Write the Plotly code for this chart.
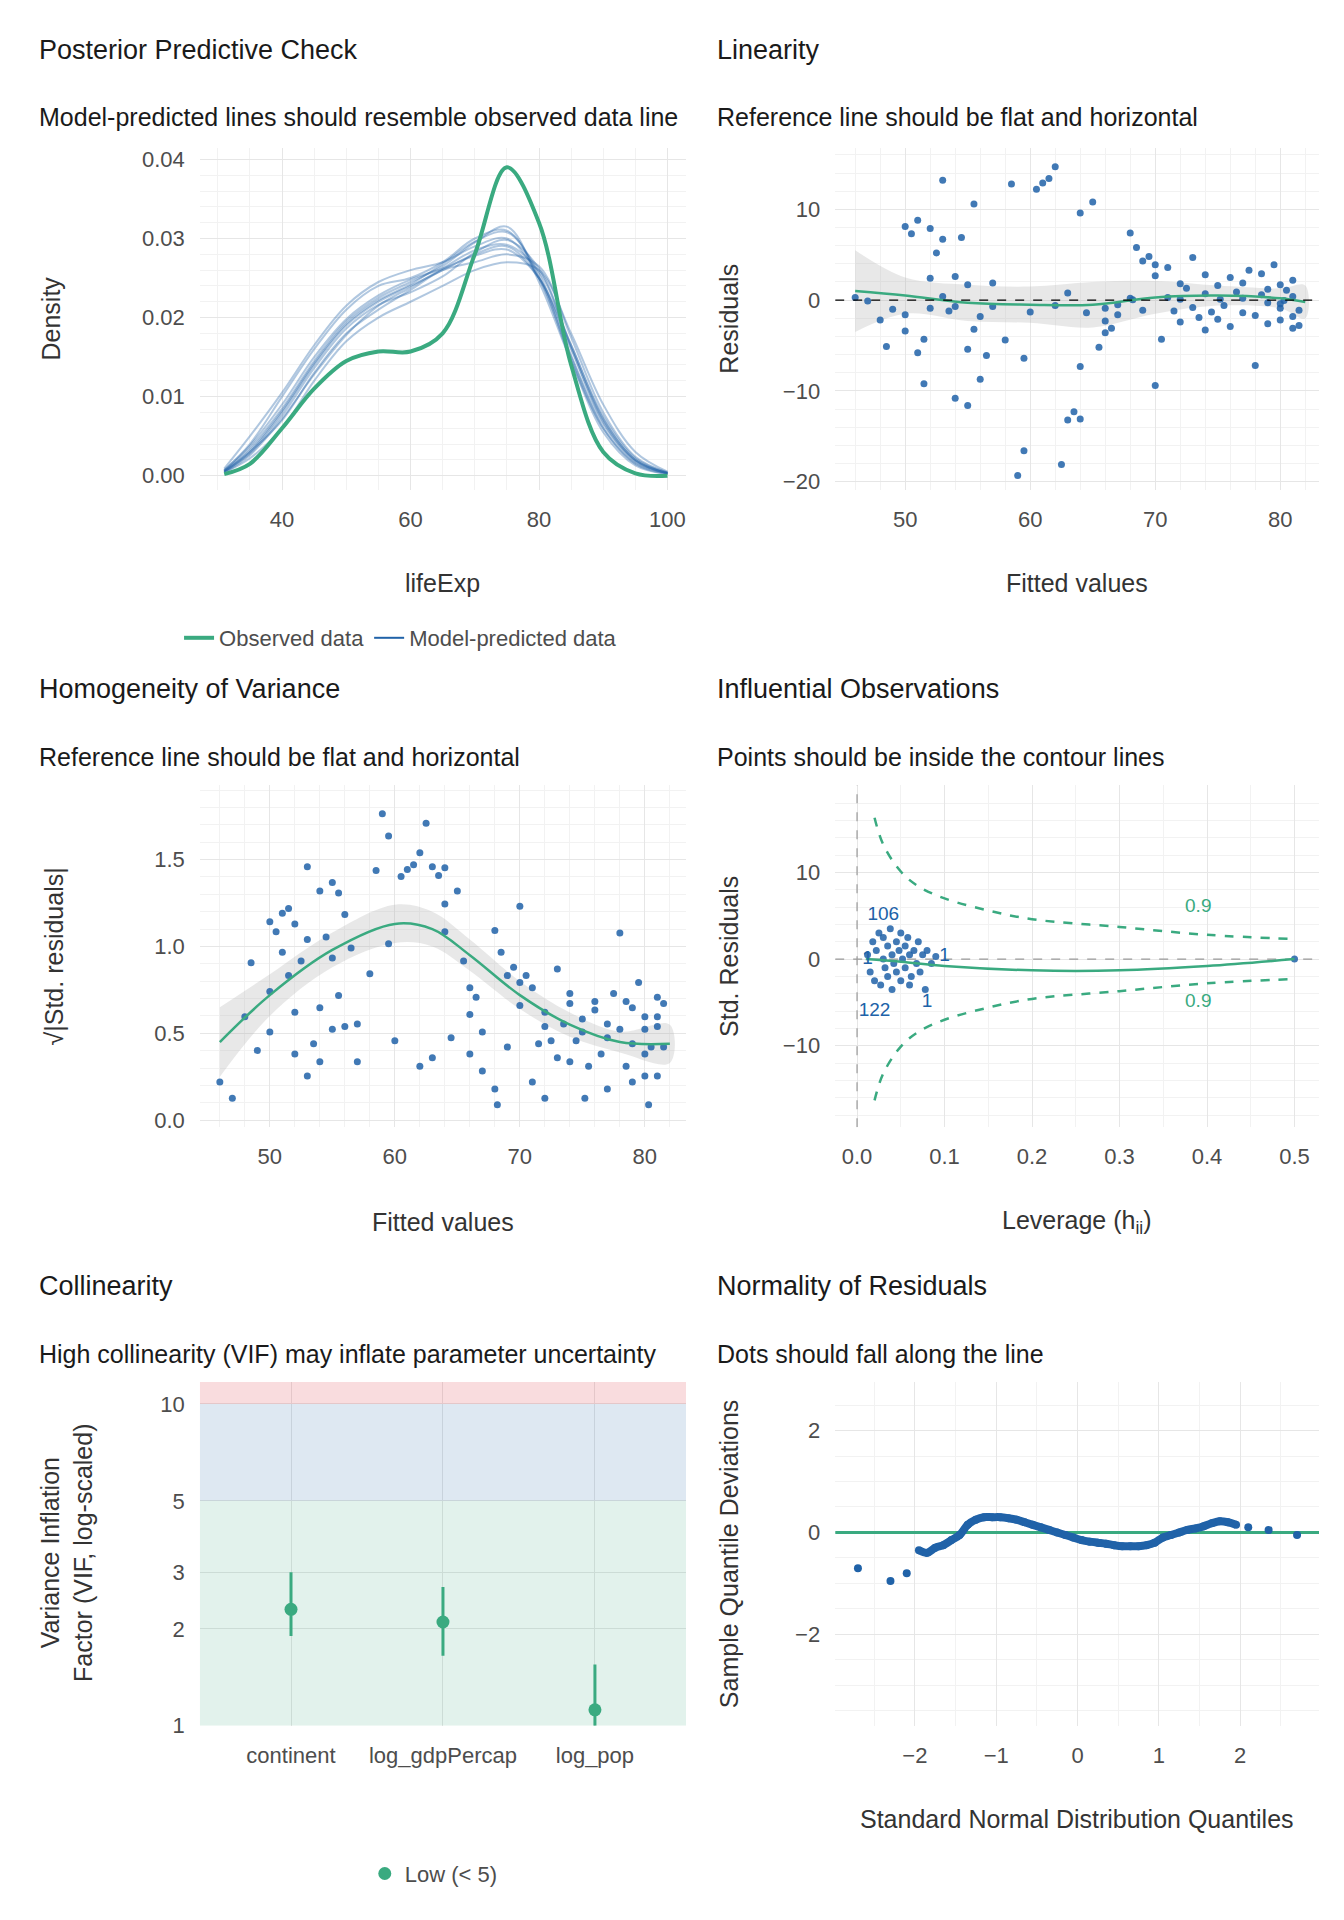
import plotly.graph_objects as go

GREEN = "#3aaa80"
BLUE = "#2062a8"
GRID = "#e6e6e6"
TXT = "#1a1a1a"
TICK = "#4d4d4d"

# ---- Posterior predictive check ----
ppc_x = [31, 35, 40, 45, 50, 55, 60, 65, 70, 75, 80, 85, 90, 95, 100]
obs_density = [0.0002, 0.0015, 0.0060, 0.0110, 0.0145, 0.0157, 0.0157, 0.0180, 0.0280, 0.0390, 0.0320, 0.0140, 0.0030, 0.0003, 0.0]
pred_density = [
    [0.0005, 0.003, 0.008, 0.014, 0.019, 0.022, 0.024, 0.026, 0.028, 0.029, 0.025, 0.016, 0.007, 0.002, 0.0003],
    [0.0007, 0.004, 0.010, 0.016, 0.021, 0.024, 0.025, 0.027, 0.030, 0.031, 0.025, 0.015, 0.006, 0.0015, 0.0002],
    [0.0004, 0.0022, 0.006, 0.012, 0.017, 0.020, 0.022, 0.024, 0.026, 0.027, 0.026, 0.018, 0.009, 0.003, 0.0005],
    [0.0006, 0.0035, 0.0085, 0.0145, 0.0195, 0.0225, 0.0245, 0.0265, 0.0295, 0.0315, 0.0245, 0.0145, 0.0060, 0.0016, 0.0003],
    [0.0005, 0.003, 0.0070, 0.0130, 0.0180, 0.0210, 0.0235, 0.0260, 0.0270, 0.0280, 0.0265, 0.0175, 0.0080, 0.0024, 0.0004],
    [0.0009, 0.0050, 0.0105, 0.0165, 0.0215, 0.0245, 0.0260, 0.0270, 0.0290, 0.0300, 0.0250, 0.0145, 0.0055, 0.0013, 0.0002],
    [0.0004, 0.0026, 0.0072, 0.0128, 0.0178, 0.0215, 0.0238, 0.0262, 0.0285, 0.0292, 0.0258, 0.0165, 0.0075, 0.0022, 0.0004],
    [0.0006, 0.0032, 0.0082, 0.0142, 0.0192, 0.0222, 0.0242, 0.0268, 0.0296, 0.0308, 0.0255, 0.0152, 0.0065, 0.0018, 0.0003],
    [0.0007, 0.0038, 0.0090, 0.0150, 0.0198, 0.0228, 0.0248, 0.0262, 0.0278, 0.0286, 0.0250, 0.0165, 0.0072, 0.0020, 0.0003],
    [0.0005, 0.0028, 0.0076, 0.0136, 0.0186, 0.0216, 0.0232, 0.0252, 0.0282, 0.0298, 0.0262, 0.0162, 0.0068, 0.0019, 0.0003],
]

# ---- Linearity ----
fit_resid = [(46,0.3),(48,-2.2),(48.5,-5.1),(50,-3.4),(50,8.1),(50.5,7.3),(51,-5.8),(51,8.8),(51.5,-9.2),(51.5,-4.3),(52,7.9),(52,2.4),(52.5,5.2),(53,13.2),(53,0.4),(53,6.7),(53.5,-1.2),(54,-0.7),(54,-10.8),(54,2.6),(54.5,6.9),(55,-11.6),(55,-5.4),(55,1.7),(55.5,10.6),(55.5,-3.2),(56,-1.8),(56,-8.7),(56.5,-6.1),(57,1.9),(58,-4.4),(58.5,12.8),(59,-19.3),(59.5,-16.6),(59.5,-6.4),(60,-1.3),(60.5,12.2),(61,12.9),(61.5,13.4),(62,14.7),(62,-0.6),(62.5,-18.1),(63,-13.2),(63,0.8),(63.5,-12.3),(64,-7.3),(64,-13.1),(64.5,-1.4),(64,9.6),(65,10.8),(65.5,-5.2),(66,-2.3),(66,-0.9),(66.5,-3.1),(67,-1.6),(67,-0.5),(68,0.2),(68,7.4),(68.5,5.8),(69,-1.1),(69,4.3),(69.5,4.8),(70,-9.4),(70,2.7),(70,3.9),(70.5,-4.3),(71,3.6),(71.5,-1.2),(72,1.8),(72,-2.4),(72,0.1),(72.5,1.3),(73,4.7),(73,-0.8),(73.5,-1.9),(74,0.7),(74,2.8),(74.5,-1.3),(75,1.6),(75,-2.1),(75.5,-0.6),(76,-2.9),(76,2.5),(76.5,0.9),(77,0.2),(77,-1.4),(77.5,3.3),(78,-1.7),(78,-7.2),(78.5,0.6),(78.5,2.9),(79,-2.6),(79,-0.3),(79.5,3.9),(80,-0.9),(80,1.7),(80,-2.2),(80.5,1.1),(81,-3.1),(81,0.4),(81,2.2),(81.5,-1.1),(81.5,-2.8),(50,-1.6),(52,-0.9),(57,-0.7),(66,-3.6),(71,0.3),(74,-3.3),(77,1.9),(79,1.2),(80,-0.4),(81,-1.8),(47,-0.1),(49,-1.0),(68.2,0.05),(75.2,0.1),(80.3,-0.05)]
fitted = [p[0] for p in fit_resid]
resid = [p[1] for p in fit_resid]
lin_x = [46, 50, 55, 60, 65, 70, 75, 80, 82]
lin_y = [1.0, 0.5, -0.3, -0.5, -0.5, 0.3, 0.5, 0.2, -0.2]
lin_lo = [-3.5, -1.5, -2.3, -2.5, -3.0, -1.5, -0.6, -0.9, -2.0]
lin_hi = [5.5, 2.5, 1.7, 1.5, 2.0, 2.1, 1.6, 1.3, 1.6]

# ---- Homogeneity ----
sigma = 6.2
sqrt_std = [(abs(r) / sigma) ** 0.5 for r in resid]
hom_x = [46, 50, 55, 60, 63, 66, 70, 74, 78, 82]
hom_y = [0.45, 0.72, 0.98, 1.13, 1.10, 0.95, 0.72, 0.55, 0.45, 0.44]
hom_lo = [0.25, 0.60, 0.88, 1.02, 1.00, 0.86, 0.64, 0.48, 0.39, 0.33]
hom_hi = [0.65, 0.84, 1.08, 1.24, 1.20, 1.04, 0.80, 0.62, 0.51, 0.55]

# ---- Influential observations ----
lev = [0.012,0.015,0.018,0.02,0.022,0.025,0.027,0.03,0.03,0.032,0.035,0.035,0.038,0.04,0.04,0.042,0.045,0.045,0.048,0.05,0.05,0.052,0.055,0.055,0.058,0.06,0.06,0.062,0.065,0.068,0.07,0.072,0.075,0.078,0.08,0.085,0.09,0.5]
std_res = [0.5,-1.5,2.0,-2.5,1.0,3.0,-3.0,0.0,2.5,-1.0,1.5,-2.0,3.5,0.5,-3.5,-0.5,2.0,-1.5,1.0,3.0,-2.5,0.0,1.5,-1.0,2.5,-3.0,0.5,-2.0,1.0,-0.5,2.0,-1.5,0.5,-3.5,1.0,-0.5,0.3,0.0]
cook_h = [0.02, 0.03, 0.05, 0.07, 0.1, 0.15, 0.2, 0.3, 0.4, 0.5]
cook_y = [16.3, 13.2, 10.1, 8.4, 7.0, 5.6, 4.6, 3.7, 2.8, 2.3]
inf_sx = [0.01, 0.05, 0.1, 0.2, 0.3, 0.4, 0.5]
inf_sy = [0.0, -0.3, -0.8, -1.3, -1.3, -0.8, 0.0]

# ---- Collinearity ----
vif_terms = ["continent", "log_gdpPercap", "log_pop"]
vif = [2.3, 2.1, 1.12]
vif_lo = [1.9, 1.65, 1.0]
vif_hi = [3.0, 2.7, 1.55]

# ---- Normality ----
qq_x = [-2.7,-2.3,-2.1,-1.95,-1.85,-1.75,-1.65,-1.55,-1.45,-1.35,-1.25,-1.15,-1.05,-0.95,-0.85,-0.75,-0.65,-0.55,-0.45,-0.35,-0.25,-0.15,-0.05,0.05,0.15,0.25,0.35,0.45,0.55,0.65,0.75,0.85,0.95,1.05,1.15,1.25,1.35,1.45,1.55,1.65,1.75,1.85,1.95,2.1,2.35,2.7]
qq_y = [-0.7,-0.95,-0.8,-0.35,-0.4,-0.3,-0.25,-0.15,-0.05,0.15,0.25,0.3,0.3,0.3,0.28,0.25,0.2,0.15,0.1,0.05,0.0,-0.05,-0.1,-0.15,-0.18,-0.2,-0.22,-0.25,-0.27,-0.27,-0.27,-0.25,-0.2,-0.1,-0.05,0.0,0.05,0.08,0.12,0.18,0.22,0.2,0.15,0.1,0.05,-0.05]

fig = go.Figure()

# panel 1
for d in pred_density:
    fig.add_trace(go.Scatter(x=ppc_x, y=d, mode="lines", line=dict(color=BLUE, width=2, shape="spline"),
                             opacity=0.35, showlegend=False, xaxis="x", yaxis="y"))
fig.add_trace(go.Scatter(x=ppc_x, y=obs_density, mode="lines", line=dict(color=GREEN, width=4, shape="spline"),
                         name="Observed data", legendrank=1, xaxis="x", yaxis="y"))
fig.add_trace(go.Scatter(x=[None], y=[None], mode="lines", line=dict(color=BLUE, width=2),
                         name="Model-predicted data", legendrank=2, xaxis="x", yaxis="y"))

# panel 2
fig.add_trace(go.Scatter(x=lin_x + lin_x[::-1], y=lin_hi + lin_lo[::-1], fill="toself", fillcolor="rgba(180,180,180,0.3)",
                         mode="lines", line=dict(width=0, shape="spline"), showlegend=False, hoverinfo="skip", xaxis="x2", yaxis="y2"))
fig.add_trace(go.Scatter(x=fitted, y=resid, mode="markers", marker=dict(color=BLUE, size=7, opacity=0.85),
                         showlegend=False, xaxis="x2", yaxis="y2"))
fig.add_trace(go.Scatter(x=lin_x, y=lin_y, mode="lines", line=dict(color=GREEN, width=2.5, shape="spline"),
                         showlegend=False, xaxis="x2", yaxis="y2"))
fig.add_trace(go.Scatter(x=[44.4, 83.1], y=[0, 0], mode="lines", line=dict(color="black", width=1.3, dash="dash"),
                         showlegend=False, xaxis="x2", yaxis="y2"))

# panel 3
fig.add_trace(go.Scatter(x=hom_x + hom_x[::-1], y=hom_hi + hom_lo[::-1], fill="toself", fillcolor="rgba(180,180,180,0.3)",
                         mode="lines", line=dict(width=0, shape="spline"), showlegend=False, hoverinfo="skip", xaxis="x3", yaxis="y3"))
fig.add_trace(go.Scatter(x=fitted, y=sqrt_std, mode="markers", marker=dict(color=BLUE, size=7, opacity=0.85),
                         showlegend=False, xaxis="x3", yaxis="y3"))
fig.add_trace(go.Scatter(x=hom_x, y=hom_y, mode="lines", line=dict(color=GREEN, width=2.5, shape="spline"),
                         showlegend=False, xaxis="x3", yaxis="y3"))

# panel 4
fig.add_trace(go.Scatter(x=[0, 0], y=[-19.4, 20.1], mode="lines", line=dict(color="#999999", width=1.2, dash="dash"),
                         showlegend=False, xaxis="x4", yaxis="y4"))
fig.add_trace(go.Scatter(x=[-0.025, 0.528], y=[0, 0], mode="lines", line=dict(color="#999999", width=1.2, dash="dash"),
                         showlegend=False, xaxis="x4", yaxis="y4"))
fig.add_trace(go.Scatter(x=cook_h, y=cook_y, mode="lines", line=dict(color=GREEN, width=2.5, dash="dash", shape="spline"),
                         showlegend=False, xaxis="x4", yaxis="y4"))
fig.add_trace(go.Scatter(x=cook_h, y=[-v for v in cook_y], mode="lines", line=dict(color=GREEN, width=2.5, dash="dash", shape="spline"),
                         showlegend=False, xaxis="x4", yaxis="y4"))
fig.add_trace(go.Scatter(x=lev, y=std_res, mode="markers", marker=dict(color=BLUE, size=7, opacity=0.85),
                         showlegend=False, xaxis="x4", yaxis="y4"))
fig.add_trace(go.Scatter(x=inf_sx, y=inf_sy, mode="lines", line=dict(color=GREEN, width=2.5, shape="spline"),
                         showlegend=False, xaxis="x4", yaxis="y4"))
fig.add_trace(go.Scatter(x=[0.03, 0.02, 0.08, 0.012, 0.1, 0.39, 0.39], y=[5, -6, -5, 0, 0.3, 6, -5],
                         mode="text", text=["106", "122", "1", "1", "1", "0.9", "0.9"],
                         textfont=dict(color=[BLUE]*5 + [GREEN]*2, size=19), showlegend=False, xaxis="x4", yaxis="y4"))

# panel 5
for lo, hi, col in [(1, 5, "rgba(58,170,128,0.15)"), (5, 10, "rgba(31,102,166,0.15)"), (10, 11.7, "rgba(220,60,70,0.18)")]:
    fig.add_trace(go.Scatter(x=[-0.6, 2.6, 2.6, -0.6], y=[lo, lo, hi, hi], fill="toself", fillcolor=col,
                             line=dict(width=0), mode="lines", showlegend=False, hoverinfo="skip", xaxis="x5", yaxis="y5"))
fig.add_trace(go.Scatter(x=[0, 1, 2], y=vif, mode="markers", marker=dict(color=GREEN, size=13),
                         error_y=dict(type="data", symmetric=False,
                                      array=[h - v for h, v in zip(vif_hi, vif)],
                                      arrayminus=[v - l for v, l in zip(vif, vif_lo)],
                                      color=GREEN, thickness=3, width=0),
                         name="Low (< 5)", legend="legend2", xaxis="x5", yaxis="y5"))

# panel 6
fig.add_trace(go.Scatter(x=[-2.98, 2.97], y=[0, 0], mode="lines", line=dict(color=GREEN, width=3),
                         showlegend=False, xaxis="x6", yaxis="y6"))
fig.add_trace(go.Scatter(x=qq_x[3:-3], y=qq_y[3:-3], mode="lines", line=dict(color=BLUE, width=8, shape="spline"),
                         showlegend=False, xaxis="x6", yaxis="y6"))
fig.add_trace(go.Scatter(x=qq_x, y=qq_y, mode="markers", marker=dict(color=BLUE, size=8),
                         showlegend=False, xaxis="x6", yaxis="y6"))

W, H = 1100.0, 1571.0
c1 = [157 / W, 555 / W]
c2 = [677 / W, 1073 / W]
r1 = [1 - 397 / H, 1 - 115 / H]
r2 = [1 - 922 / H, 1 - 640 / H]
r3 = [1 - 1415 / H, 1 - 1132 / H]

def ax(dom, anchor, rng, **kw):
    d = dict(domain=dom, anchor=anchor, range=rng, showgrid=True, gridcolor=GRID, gridwidth=1.3,
             zeroline=False, showline=False, ticks="", tickfont=dict(size=22, color=TICK),
             ticklabelstandoff=14, minor=dict(showgrid=True, gridcolor="#f2f2f2", gridwidth=1))
    d.update(kw)
    return d

layout = dict(
    width=1344, height=1920, margin=dict(l=0, r=0, t=0, b=0),
    paper_bgcolor="white", plot_bgcolor="white",
    font=dict(family="Liberation Sans, Arial", color=TXT),
    xaxis=ax(c1, "y", [27.2, 102.9], tickvals=[40, 60, 80, 100]),
    yaxis=ax(r1, "x", [-0.0018, 0.0415], tickvals=[0, 0.01, 0.02, 0.03, 0.04], tickformat=".2f"),
    xaxis2=ax(c2, "y2", [44.4, 83.1], tickvals=[50, 60, 70, 80]),
    yaxis2=ax(r1, "x2", [-20.9, 16.8], tickvals=[-20, -10, 0, 10]),
    xaxis3=ax(c1, "y3", [44.4, 83.3], tickvals=[50, 60, 70, 80]),
    yaxis3=ax(r2, "x3", [-0.04, 1.93], tickvals=[0, 0.5, 1, 1.5], tickformat=".1f"),
    xaxis4=ax(c2, "y4", [-0.025, 0.528], tickvals=[0, 0.1, 0.2, 0.3, 0.4, 0.5], tickformat=".1f"),
    yaxis4=ax(r2, "x4", [-19.4, 20.1], tickvals=[-10, 0, 10]),
    xaxis5=ax(c1, "y5", [-0.6, 2.6], tickvals=[0, 1, 2], ticktext=vif_terms, minor=dict(showgrid=False)),
    yaxis5=ax(r3, "x5", [0, 1.068], type="log", tickvals=[1, 2, 3, 5, 10], minor=dict(showgrid=False)),
    xaxis6=ax(c2, "y6", [-2.98, 2.97], tickvals=[-2, -1, 0, 1, 2]),
    yaxis6=ax(r3, "x6", [-3.79, 2.95], tickvals=[-2, 0, 2]),
    legend=dict(orientation="h", x=140 / W, y=1 - 519 / H, yanchor="middle", xanchor="left",
                font=dict(size=22, color=TICK), traceorder="normal"),
    legend2=dict(orientation="h", x=292 / W, y=1 - 1537 / H, yanchor="middle", xanchor="left",
                 font=dict(size=22, color=TICK)),
)
fig.update_layout(**layout)

ann = []
def txt(x, y, s, size=25, angle=0, xanchor="left", color=TXT):
    ann.append(dict(x=x, y=y, xref="paper", yref="paper", text=s, showarrow=False, textangle=angle,
                    xanchor=xanchor, yanchor="middle", font=dict(size=size, color=color)))

for (x, t, st, yt, ys) in [
    (24, "Posterior Predictive Check", "Model-predicted lines should resemble observed data line", 35, 90),
    (579, "Linearity", "Reference line should be flat and horizontal", 35, 90),
    (24, "Homogeneity of Variance", "Reference line should be flat and horizontal", 561, 617),
    (579, "Influential Observations", "Points should be inside the contour lines", 561, 617),
    (24, "Collinearity", "High collinearity (VIF) may inflate parameter uncertainty", 1053, 1109),
    (579, "Normality of Residuals", "Dots should fall along the line", 1053, 1109)]:
    txt(x / W, 1 - yt / H, t, size=27)
    txt(x / W, 1 - ys / H, st, size=25)

txt(356 / W, 1 - 474 / H, "lifeExp", xanchor="center", color="#333")
txt(875 / W, 1 - 474 / H, "Fitted values", xanchor="center", color="#333")
txt(356 / W, 1 - 1000 / H, "Fitted values", xanchor="center", color="#333")
txt(875 / W, 1 - 1000 / H, "Leverage (h<sub>ii</sub>)", xanchor="center", color="#333")
txt(875 / W, 1 - 1492 / H, "Standard Normal Distribution Quantiles", xanchor="center", color="#333")
txt(35 / W, 1 - 256 / H, "Density", angle=-90, xanchor="center", color="#333")
txt(590 / W, 1 - 256 / H, "Residuals", angle=-90, xanchor="center", color="#333")
txt(38 / W, 1 - 781 / H, "√|Std. residuals|", angle=-90, xanchor="center", color="#333")
txt(590 / W, 1 - 781 / H, "Std. Residuals", angle=-90, xanchor="center", color="#333")
txt(48 / W, 1 - 1273 / H, "Variance Inflation<br>Factor (VIF, log-scaled)", angle=-90, xanchor="center", color="#333")
txt(590 / W, 1 - 1273 / H, "Sample Quantile Deviations", angle=-90, xanchor="center", color="#333")
fig.update_layout(annotations=ann)

fig.write_html("out.html")
